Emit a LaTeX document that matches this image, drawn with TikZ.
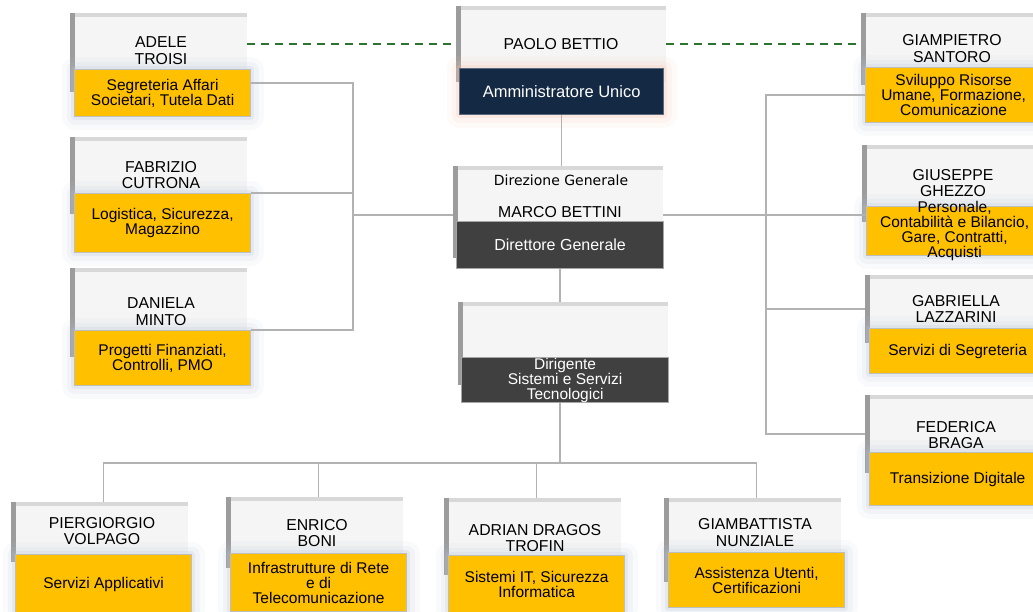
\documentclass[tikz,border=0pt]{standalone}
\usepackage{fontspec}
\setmainfont{Liberation Sans}
\newfontfamily\dejavu{DejaVu Sans}
\definecolor{gold}{HTML}{FFC000}
\definecolor{navy}{HTML}{142A44}
\definecolor{darkbox}{HTML}{404040}
\definecolor{boxfill}{HTML}{F5F5F5}
\definecolor{sidebar}{HTML}{9C9C9C}
\definecolor{topband}{HTML}{D8D8D8}
\definecolor{rimgray}{HTML}{BEBEBE}
\definecolor{linkgray}{HTML}{B2B2B2}
\definecolor{dashgreen}{HTML}{2E7431}
\definecolor{glowblue}{HTML}{B8C8DA}
\definecolor{glowpink}{HTML}{F6C4AE}

\begin{document}
\begin{tikzpicture}[x=1pt, y=-1pt,
    namebox/.style={fill=boxfill, inner sep=0pt, anchor=north west, minimum width=177,
        path picture={
            \fill[topband] (path picture bounding box.north west) rectangle ([yshift=-4pt]path picture bounding box.north east);
            \fill[sidebar] (path picture bounding box.north west) rectangle ([xshift=5pt]path picture bounding box.south west);}},
    glow/.style={preaction={draw=#1, line width=26pt, opacity=.08, line join=round},
        preaction={draw=#1, line width=16pt, opacity=.12, line join=round},
        preaction={draw=#1, line width=7pt, opacity=.22, line join=round}},
    rolebox/.style={draw=rimgray, line width=1.2pt, fill=gold, inner sep=0pt, anchor=north west, minimum width=176},
    nametext/.style={align=center, inner sep=0pt, font=\fontsize{15.8}{16.5}\selectfont},
    roletext/.style={align=center, inner sep=0pt, font=\fontsize{15.5}{15}\selectfont},
    link/.style={draw=linkgray, line width=1.5pt},
    dashlink/.style={draw=dashgreen, line width=1.5pt, dash pattern=on 8pt off 6pt}]
    \useasboundingbox (0,0) rectangle (1033,611);
    \clip (0,0) rectangle (1033,611);
    \fill[white] (0,0) rectangle (1033,611);

    \foreach \id/\x/\y/\bh/\ro/\rh/\ny/\nm/\rl in {
        adele/70/13/79/56/47/37.5/{ADELE\\TROISI}/{Segreteria Affari\\Societari, Tutela Dati},
        fabrizio/70/137/77/56/59/38/{FABRIZIO\\CUTRONA}/{Logistica, Sicurezza,\\Magazzino},
        daniela/70/268/89/62/55/43.5/{DANIELA\\MINTO}/{Progetti Finanziati,\\Controlli, PMO},
        giampietro/861/13/72/54/55/35.5/{GIAMPIETRO\\SANTORO}/{Sviluppo Risorse\\Umane, Formazione,\\Comunicazione},
        giuseppe/862/145/77/61/49/38/{GIUSEPPE\\GHEZZO}/{Personale,\\Contabilità e Bilancio,\\Gare, Contratti,\\Acquisti},
        gabriella/865/275/68/53/45/34/{GABRIELLA\\LAZZARINI}/{Servizi di Segreteria},
        federica/865/395/78/57/53/40/{FEDERICA\\BRAGA}/{Transizione Digitale},
        piergiorgio/11/502/60/52/60/29/{PIERGIORGIO\\VOLPAGO}/{Servizi Applicativi},
        enrico/226/497/71/56/58/36/{ENRICO\\BONI}/{Infrastrutture di Rete\\e di\\Telecomunicazione},
        adrian/444/498/77/57/57/40/{ADRIAN DRAGOS\\TROFIN}/{Sistemi IT, Sicurezza\\Informatica},
        giambattista/664/498/84/54/55/34.5/{GIAMBATTISTA\\NUNZIALE}/{Assistenza Utenti,\\Certificazioni}}
    {
        \node[namebox, minimum height=\bh] (\id) at (\x,\y) {};
        \node[rolebox, glow=glowblue, minimum height=\rh] (\id-role) at (\x+4,\y+\ro) {};
        \node[nametext] (\id-nm) at (\x+91,\y+\ny) {\nm};
        \node[roletext] (\id-rt) at (\id-role) {\rl};
    }

    \node[namebox, minimum width=210, minimum height=76] (pb) at (456,6) {};
    \node[rolebox, fill=navy, draw=navy!70, glow=glowpink, minimum width=204, minimum height=46] (pb-role) at (459,68) {};
    \node[nametext] (pb-nm) at (561,44) {PAOLO BETTIO};
    \node[roletext, text=white, font=\fontsize{16.5}{16}\selectfont] (pb-rt) at (pb-role) {Amministratore Unico};

    \node[namebox, minimum width=210, minimum height=92] (dg) at (453,166) {};
    \node[rolebox, fill=darkbox, draw=gray!70, minimum width=207, minimum height=47] (dg-role) at (456,221) {};
    \node[inner sep=0pt, font=\dejavu\fontsize{14}{16}\selectfont] (dg-top) at (561,180) {Direzione Generale};
    \node[nametext] (dg-nm) at (560,212) {MARCO BETTINI};
    \node[roletext, text=white, font=\fontsize{16}{16}\selectfont] (dg-rt) at (dg-role) {Direttore Generale};

    \node[namebox, minimum width=210, minimum height=83] (dst) at (458,302) {};
    \node[rolebox, fill=darkbox, draw=gray!70, minimum width=207, minimum height=45] (dst-role) at (461,357) {};
    \node[roletext, text=white] (dst-rt) at (dst-role) {Dirigente\\Sistemi e Servizi\\Tecnologici};

    \coordinate (lbus) at (353,215);
    \coordinate (rbus) at (766,215);
    \coordinate (bbus) at (560,463);
    \draw[link] ([yshift=-14pt]adele-role.north east) -| (lbus) |- (daniela-role.north east);
    \draw[link] (fabrizio-role.north east) -| (lbus) -- (lbus -| dg.west);
    \draw[link] (giampietro-role.west) -| (rbus) |- (federica.west);
    \draw[link] (gabriella.west) -| (rbus);
    \draw[link] (dg.east |- rbus) -- (giuseppe-role.west |- rbus);
    \draw[link] (pb-role.south) -- (pb-role.south |- dg.north);
    \draw[link] (dg-role.south) -- (dg-role.south |- dst.north);
    \draw[link] (bbus |- dst-role.south) -- (bbus);
    \foreach \c in {piergiorgio,enrico,adrian,giambattista}
        \draw[link] (bbus) -| (\c-role.north |- \c.north);
    \draw[dashlink] (pb.west -| adele.east) -- (pb.west);
    \draw[dashlink] (pb.east) -- (pb.east -| giampietro.west);
\end{tikzpicture}
\end{document}
